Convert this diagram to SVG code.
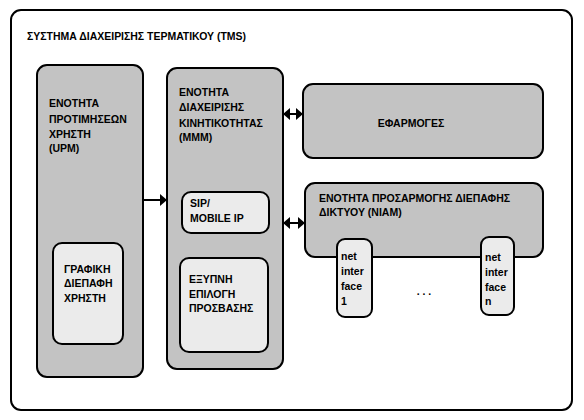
<svg xmlns="http://www.w3.org/2000/svg" width="584" height="420" viewBox="0 0 584 420">
<defs>
<style>
.box{stroke:#000;stroke-width:2}
.g{fill:#c3c3c3}
.l{fill:#ebebeb}
text{font-family:"Liberation Sans",Arial,sans-serif;font-weight:bold;font-size:10.5px;fill:#000}
.s{font-size:10.5px}
.con{stroke:#000;stroke-width:2;fill:none}
</style>
<marker id="ah" markerWidth="8" markerHeight="12" refX="7" refY="6" orient="auto" markerUnits="userSpaceOnUse">
<path d="M0,0 L7,6 L0,12 Z" fill="#000"/>
</marker>
<marker id="as" markerWidth="8" markerHeight="12" refX="0" refY="6" orient="auto" markerUnits="userSpaceOnUse">
<path d="M7,0 L0,6 L7,12 Z" fill="#000"/>
</marker>
</defs>
<rect width="584" height="420" fill="#fff"/>
<g id="tms">
<rect class="box" x="11" y="10" width="561" height="400" rx="10" fill="#fff"/>
<text x="27" y="40" textLength="219" lengthAdjust="spacingAndGlyphs">ΣΥΣΤΗΜΑ ΔΙΑΧΕΙΡΙΣΗΣ ΤΕΡΜΑΤΙΚΟΥ (TMS)</text>
</g>
<g id="upm">
<rect class="box g" x="37" y="65" width="106" height="312" rx="10"/>
<text x="49" y="107">ΕΝΟΤΗΤΑ</text>
<text x="49" y="123">ΠΡΟΤΙΜΗΣΕΩΝ</text>
<text x="49" y="138">ΧΡΗΣΤΗ</text>
<text x="49" y="152">(UPM)</text>
</g>
<g id="gui">
<rect class="box l" x="53" y="243" width="70" height="101" rx="9"/>
<text x="64" y="273">ΓΡΑΦΙΚΗ</text>
<text x="64" y="287">ΔΙΕΠΑΦΗ</text>
<text x="64" y="302">ΧΡΗΣΤΗ</text>
</g>
<g id="mmm">
<rect class="box g" x="167" y="68" width="116" height="301" rx="10"/>
<text x="179" y="96">ΕΝΟΤΗΤΑ</text>
<text x="179" y="111">ΔΙΑΧΕΙΡΙΣΗΣ</text>
<text x="179" y="127">ΚΙΝΗΤΙΚΟΤΗΤΑΣ</text>
<text x="179" y="141">(MMM)</text>
</g>
<g id="sip">
<rect class="box l" x="182" y="192" width="87" height="41" rx="9"/>
<text x="190" y="207">SIP/</text>
<text x="190" y="222">MOBILE IP</text>
</g>
<g id="access">
<rect class="box l" x="180" y="258" width="88" height="94" rx="9"/>
<text x="189" y="283">ΕΞΥΠΝΗ</text>
<text x="189" y="298">ΕΠΙΛΟΓΗ</text>
<text x="189" y="312">ΠΡΟΣΒΑΣΗΣ</text>
</g>
<g id="apps">
<rect class="box g" x="303" y="84" width="240" height="74" rx="10"/>
<text x="411" y="127" text-anchor="middle">ΕΦΑΡΜΟΓΕΣ</text>
</g>
<g id="niam">
<rect class="box g" x="305" y="183" width="238" height="74" rx="10"/>
<text x="319" y="202">ΕΝΟΤΗΤΑ ΠΡΟΣΑΡΜΟΓΗΣ ΔΙΕΠΑΦΗΣ</text>
<text x="319" y="216">ΔΙΚΤΥΟΥ (NIAM)</text>
</g>
<g id="net1">
<rect class="box l" x="337" y="239" width="35" height="78" rx="8"/>
<text class="s" x="341" y="260">net</text>
<text class="s" x="341" y="275">inter</text>
<text class="s" x="341" y="290">face</text>
<text class="s" x="341" y="305">1</text>
</g>
<g id="netn">
<rect class="box l" x="481" y="237" width="33" height="78" rx="8"/>
<text class="s" x="485" y="261">net</text>
<text class="s" x="485" y="276">inter</text>
<text class="s" x="485" y="291">face</text>
<text class="s" x="485" y="305">n</text>
</g>
<g id="dots">
<text x="424" y="295" text-anchor="middle">. . .</text>
</g>
<g id="connectors">
<line class="con" x1="143" y1="200" x2="167" y2="200" marker-end="url(#ah)"/>
<line class="con" x1="283" y1="114" x2="303" y2="114" marker-start="url(#as)" marker-end="url(#ah)"/>
<line class="con" x1="283" y1="223" x2="305" y2="223" marker-start="url(#as)" marker-end="url(#ah)"/>
</g>
</svg>
